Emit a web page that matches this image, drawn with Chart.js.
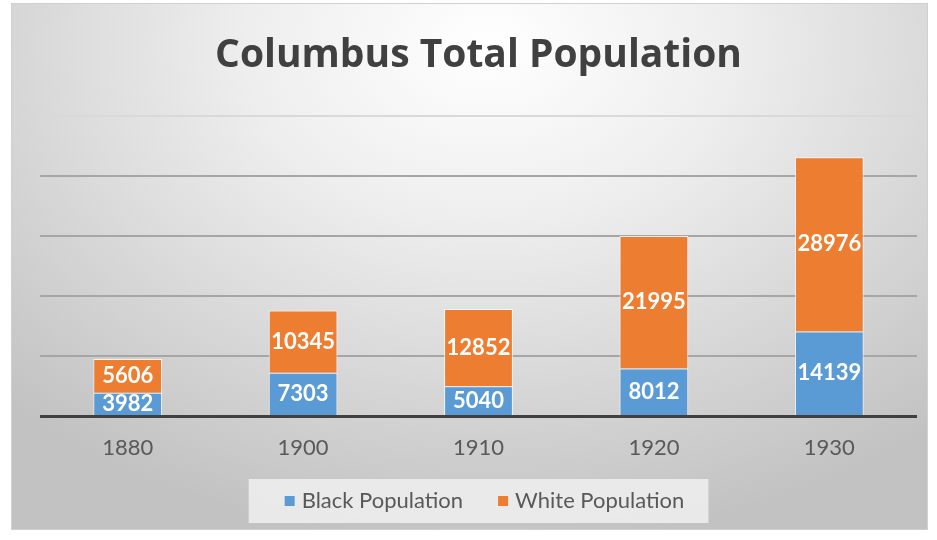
<!DOCTYPE html>
<html>
<head>
<meta charset="utf-8">
<script src="https://cdn.jsdelivr.net/npm/chart.js@4"></script>
<style>
  html, body { margin: 0; padding: 0; background: #ffffff; }
  #wrap { position: relative; width: 937px; height: 540px; }
  #pane {
    position: absolute; left: 11px; top: 3px; width: 915px; height: 525px;
    background: radial-gradient(ellipse 75% 95% at 52% 8%, #ffffff 0%, #eeeeee 35%, #d6d6d6 70%, #c2c2c2 100%);
    border: 1px solid #d0d0d0;
  }
  #chart { position: absolute; left: 0; top: 0; }
</style>
</head>
<body>
<div id="wrap">
  <div id="pane"></div>
  <canvas id="chart" width="937" height="540"></canvas>
</div>
<script>
// данные переписи
const years = ['1880', '1900', '1910', '1920', '1930'];
const blackPopulation = [3982, 7303, 5040, 8012, 14139];
const whitePopulation = [5606, 10345, 12852, 21995, 28976];

const FONT = 'Lato, "Open Sans", sans-serif';

// белые подписи в середине каждого сегмента
const segmentLabels = {
    id: 'segmentLabels',
    afterDatasetsDraw(chart) {
        const ctx = chart.ctx;
        ctx.save();
        ctx.fillStyle = '#ffffff';
        ctx.font = 'bold 22px ' + FONT;
        ctx.textAlign = 'center';
        ctx.textBaseline = 'middle';
        chart.data.datasets.forEach((ds, i) => {
            chart.getDatasetMeta(i).data.forEach((bar, j) => {
                const y = (bar.y + bar.base) / 2;
                ctx.fillText(String(ds.data[j]), bar.x, y);
            });
        });
        ctx.restore();
    }
};

// легенда в стиле Excel: подложка, квадратики, подписи
const excelLegend = {
    id: 'excelLegend',
    afterDraw(chart) {
        const ctx = chart.ctx;
        const area = chart.chartArea;
        const sets = chart.data.datasets;
        const box = 10, gapText = 7, gapItem = 35;
        const cy = 501;
        ctx.save();
        ctx.font = '22px ' + FONT;
        const widths = sets.map(ds => box + gapText + ctx.measureText(ds.label).width);
        const total = widths.reduce((a, b) => a + b, 0) + gapItem * (sets.length - 1);
        let x = (area.left + area.right) / 2 - total / 2 + 6;

        ctx.fillStyle = 'rgba(240,240,240,0.85)';
        ctx.fillRect(x - 36, cy - 22, total + 36 + 24, 44);

        ctx.textBaseline = 'middle';
        ctx.textAlign = 'left';
        sets.forEach((ds, i) => {
            ctx.fillStyle = ds.backgroundColor;
            ctx.fillRect(x, cy - box / 2, box, box);
            ctx.fillStyle = '#595959';
            ctx.fillText(ds.label, x + box + gapText, cy);
            x += widths[i] + gapItem;
        });
        ctx.restore();
    }
};

new Chart(document.getElementById('chart').getContext('2d'), {
    type: 'bar',
    data: {
        labels: years,
        datasets: [{
            label: 'Black Population',
            data: blackPopulation,
            backgroundColor: '#5b9bd5',
            borderColor: 'rgba(255,255,255,0.8)',
            borderWidth: 1,
            barPercentage: 0.8,
            categoryPercentage: 0.49
        }, {
            label: 'White Population',
            data: whitePopulation,
            backgroundColor: '#ed7d31',
            borderColor: 'rgba(255,255,255,0.8)',
            borderWidth: 1,
            barPercentage: 0.8,
            categoryPercentage: 0.49
        }]
    },
    options: {
        responsive: false,
        animation: false,
        layout: { padding: { left: 40, right: 20, top: 0, bottom: 69 } },
        plugins: {
            title: {
                display: true,
                text: 'Columbus Total Population',
                color: '#404040',
                font: { family: '"Open Sans", Lato, sans-serif', size: 39, weight: 'bold' },
                padding: { top: 32, bottom: 37 }
            },
            legend: { display: false },
            tooltip: { enabled: false }
        },
        scales: {
            x: {
                stacked: true,
                grid: { display: false },
                border: { display: false },
                ticks: {
                    color: '#595959',
                    font: { family: FONT, size: 22 },
                    padding: 10
                }
            },
            y: {
                stacked: true,
                min: 0,
                max: 50000,
                ticks: { display: false, stepSize: 10000 },
                border: { display: false },
                grid: {
                    drawTicks: false,
                    color: c => c.tick.value === 0 ? '#404040' : (c.tick.value === 50000 ? '#d9d9d9' : '#a6a6a6'),
                    lineWidth: c => c.tick.value === 0 ? 3 : 2
                }
            }
        }
    },
    plugins: [segmentLabels, excelLegend]
});
</script>
</body>
</html>
